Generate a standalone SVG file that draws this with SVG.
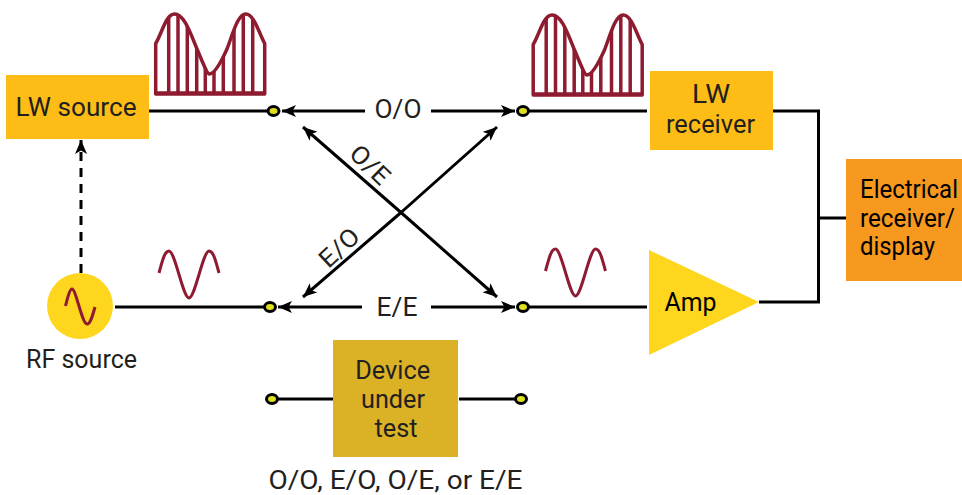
<svg xmlns="http://www.w3.org/2000/svg" width="962" height="495" viewBox="0 0 962 495">
<style>
text{font-family:Roboto,"Liberation Sans",sans-serif;font-size:25px;fill:#231f20;text-anchor:middle}
.c{fill:none;stroke:#000;stroke-width:3}
.a{fill:none;stroke:#000;stroke-width:3;marker-end:url(#ah)}
.d{fill:#dfe020;stroke:#000;stroke-width:3}
.w{fill:none;stroke:#8e1b30;stroke-width:3.500;stroke-linejoin:round}
.s{fill:none;stroke:#8e1b30;stroke-width:3}
</style>
<defs>
<marker id="ah" markerUnits="userSpaceOnUse" markerWidth="16" markerHeight="14" refX="14" refY="6" orient="auto"><path d="M0 0L14 6L0 12L3.500 6Z" fill="#000"/></marker>
<clipPath id="modclip"><path d="M155.700 94V43.500C162 33 166 14 174.500 14C184 14 190 32 197 49C203 63 207 74 209.500 74C215 74 222 60 227 49C233 33 238 14 245.700 14C254 14 259 33 264.700 43.500V94Z"/></clipPath>
<g id="mod">
<path class="w" d="M155.700 94V43.500C162 33 166 14 174.500 14C184 14 190 32 197 49C203 63 207 74 209.500 74C215 74 222 60 227 49C233 33 238 14 245.700 14C254 14 259 33 264.700 43.500V94Z"/>
<path class="w" clip-path="url(#modclip)" d="M168.700 94V10M178 94V10M187.300 94V10M196.700 94V10M205.300 94V10M214 94V10M223.300 94V10M234 94V10M243.300 94V10M252.700 94V10M155.700 93H264.700"/>
</g>
<path id="sine" class="s" d="M159 273C163 258 165 251 169 251C175 251 183 298 189 298C195 298 203 251 209 251C213 251 215 258 219 273"/>
</defs>
<g id="connectors">
<path class="c" d="M149 111H268M528 111H647M115 307H265M528 307H647M773 111H818.500V302H759M818.500 218H846M277 399H334M459 399H516"/>
<path class="a" d="M365 111H282"/>
<path class="a" d="M431 111H515"/>
<path class="a" d="M362 307H278"/>
<path class="a" d="M431 307H515"/>
<path class="a" d="M401 212.500L303 127"/>
<path class="a" d="M401 212.500L497 127"/>
<path class="a" d="M401 212.500L303 297"/>
<path class="a" d="M401 212.500L497 297"/>
<path class="a" d="M81 273V140" stroke-dasharray="9 7"/>
</g>
<g id="wave-lw-source"><use href="#mod"/></g>
<g id="wave-lw-receiver"><use href="#mod" x="377.500" y="1"/></g>
<g id="wave-rf"><use href="#sine"/></g>
<g id="wave-amp"><use href="#sine" x="386.500" y="-2"/></g>
<g id="lw-source"><rect x="6" y="75" width="143" height="64" fill="#fdbd16"/><text x="76" y="116" textLength="121" lengthAdjust="spacingAndGlyphs">LW source</text></g>
<g id="lw-receiver"><rect x="650" y="71" width="123" height="79" fill="#fdbd16"/><text x="711" y="103" textLength="38" lengthAdjust="spacingAndGlyphs">LW</text><text x="710.500" y="132.500" textLength="89" lengthAdjust="spacingAndGlyphs">receiver</text></g>
<g id="display"><rect x="846" y="159" width="116" height="122" fill="#f7981f"/><text x="909" y="197.500" textLength="98" lengthAdjust="spacingAndGlyphs" style="fill:#000">Electrical</text><text x="907.500" y="226.500" textLength="95" lengthAdjust="spacingAndGlyphs" style="fill:#000">receiver/</text><text x="897.500" y="255" textLength="75" lengthAdjust="spacingAndGlyphs" style="fill:#000">display</text></g>
<g id="rf-source"><circle cx="80" cy="306" r="33" fill="#fed61e"/><path class="s" d="M65.500 306C68 296 70 289 72 289C76 289 82 324 87 324C90 324 92 318 95 307"/><text x="81.500" y="368" textLength="111" lengthAdjust="spacingAndGlyphs">RF source</text></g>
<g id="amp"><path d="M649 250L759 302L649 355Z" fill="#fed61e"/><text x="690.500" y="311" textLength="52" lengthAdjust="spacingAndGlyphs" style="fill:#000">Amp</text></g>
<g id="dut"><rect x="333" y="340" width="125" height="117" fill="#dbb125"/><text x="392.700" y="378.500" textLength="75" lengthAdjust="spacingAndGlyphs">Device</text><text x="393" y="407.500" textLength="64" lengthAdjust="spacingAndGlyphs">under</text><text x="396" y="436.500" textLength="43" lengthAdjust="spacingAndGlyphs">test</text></g>
<g id="ports">
<ellipse class="d" cx="273.500" cy="111" rx="5.500" ry="4.500"/><ellipse class="d" cx="523" cy="111" rx="5.500" ry="4.500"/>
<ellipse class="d" cx="270" cy="307" rx="5.500" ry="4.500"/><ellipse class="d" cx="523" cy="307" rx="5.500" ry="4.500"/>
<ellipse class="d" cx="272" cy="399" rx="5.500" ry="4.500"/><ellipse class="d" cx="521" cy="399" rx="5.500" ry="4.500"/>
</g>
<g id="labels">
<text x="398" y="118" textLength="47" lengthAdjust="spacingAndGlyphs">O/O</text>
<text x="397" y="316" textLength="41" lengthAdjust="spacingAndGlyphs">E/E</text>
<text transform="translate(364 171) rotate(44)" textLength="45" lengthAdjust="spacingAndGlyphs">O/E</text>
<text transform="translate(345 254) rotate(-43)" textLength="45" lengthAdjust="spacingAndGlyphs">E/O</text>
<text x="395.500" y="488.500" textLength="254" lengthAdjust="spacingAndGlyphs">O/O, E/O, O/E, or E/E</text>
</g>
</svg>
